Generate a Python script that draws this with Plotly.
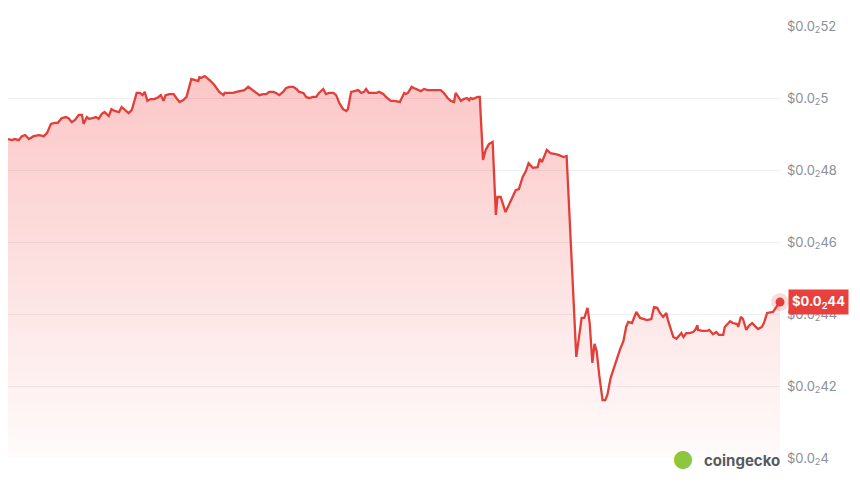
import plotly.graph_objects as go

# minutes since start of the 24h window
minutes = [0, 7, 13, 20, 26, 32, 39, 48, 58, 67, 73, 80, 87, 93, 100, 108, 113, 119, 125, 132,
           138, 141, 147, 151, 158, 164, 169, 175, 180, 188, 193, 199, 207, 212, 218, 225, 231, 240, 246, 251,
           255, 260, 266, 273, 281, 285, 290, 294, 301, 309, 314, 320, 327, 333, 342, 348, 355, 357, 361, 367,
           370, 376, 385, 394, 402, 404, 411, 420, 426, 435, 441, 448, 454, 463, 469, 476, 482, 487, 495, 500,
           506, 513, 519, 525, 532, 538, 543, 551, 556, 562, 569, 575, 580, 588, 593, 599, 607, 612, 618, 625,
           631, 634, 640, 646, 653, 659, 664, 668, 673, 681, 687, 692, 700, 705, 711, 714, 720, 727, 731, 739,
           742, 746, 753, 757, 765, 770, 776, 783, 793, 802, 807, 813, 820, 826, 832, 835, 839, 845, 850, 856,
           860, 863, 867, 871, 876, 880, 886, 891, 897, 904, 910, 913, 919, 928, 938, 947, 953, 960, 966, 971,
           979, 988, 992, 996, 1005, 1012, 1021, 1027, 1036, 1042, 1060, 1070, 1075, 1081, 1085, 1090, 1094, 1098, 1103, 1109,
           1114, 1118, 1124, 1129, 1137, 1142, 1148, 1153, 1157, 1164, 1172, 1179, 1187, 1192, 1200, 1205, 1211, 1216, 1222, 1228,
           1231, 1237, 1241, 1247, 1252, 1256, 1260, 1265, 1271, 1278, 1282, 1286, 1287, 1295, 1304, 1308, 1315, 1321, 1326, 1334,
           1337, 1347, 1352, 1360, 1362, 1367, 1371, 1377, 1382, 1388, 1393, 1399, 1406, 1410, 1416, 1423, 1427, 1433, 1440]

# price in units of 1e-6 USD
price_micro = [4886, 4883, 4886, 4883, 4894, 4897, 4886, 4894, 4897, 4894, 4903, 4928, 4931, 4931, 4944, 4947, 4944, 4933, 4939, 4953,
               4953, 4928, 4947, 4942, 4944, 4947, 4942, 4956, 4961, 4950, 4969, 4964, 4961, 4975, 4967, 4958, 4967, 5014, 5014, 5008,
               5017, 4992, 4997, 4997, 5003, 5008, 4992, 5008, 5011, 5011, 5000, 4989, 4994, 5003, 5053, 5050, 5047, 5058, 5056, 5061,
               5058, 5050, 5036, 5017, 5008, 5014, 5014, 5014, 5017, 5019, 5022, 5031, 5025, 5014, 5008, 5011, 5011, 5017, 5017, 5014,
               5008, 5017, 5028, 5031, 5031, 5025, 5017, 5014, 5003, 5000, 5003, 5003, 5014, 5025, 5011, 5014, 5014, 5008, 4986, 4969,
               4964, 4969, 5017, 5019, 5022, 5014, 5017, 5025, 5014, 5014, 5014, 5017, 5011, 5003, 4994, 4992, 4992, 4989, 4989, 5014,
               5011, 5014, 5031, 5028, 5022, 5019, 5025, 5022, 5022, 5022, 5022, 5014, 5000, 4992, 4989, 5014, 5006, 4992, 4997, 5000,
               4994, 5000, 4997, 5000, 5003, 5003, 4828, 4856, 4872, 4878, 4675, 4725, 4725, 4683, 4717, 4744, 4747, 4781, 4797, 4819,
               4806, 4808, 4831, 4822, 4856, 4847, 4844, 4842, 4836, 4839, 4281, 4389, 4389, 4417, 4375, 4264, 4317, 4297, 4228, 4161,
               4161, 4175, 4222, 4247, 4281, 4303, 4325, 4364, 4378, 4375, 4406, 4389, 4386, 4383, 4386, 4419, 4417, 4403, 4392, 4403,
               4383, 4350, 4336, 4331, 4339, 4347, 4336, 4347, 4347, 4350, 4356, 4369, 4356, 4353, 4353, 4356, 4344, 4350, 4342, 4342,
               4364, 4380, 4375, 4372, 4364, 4392, 4386, 4356, 4367, 4375, 4367, 4358, 4364, 4375, 4403, 4406, 4406, 4419, 4433]

prices = [p * 1e-6 for p in price_micro]

tick_values = [0.0040, 0.0042, 0.0044, 0.0046, 0.0048, 0.0050, 0.0052]
tick_labels = ["$0.0<sub>2</sub>4", "$0.0<sub>2</sub>42", "$0.0<sub>2</sub>44", "$0.0<sub>2</sub>46",
               "$0.0<sub>2</sub>48", "$0.0<sub>2</sub>5", "$0.0<sub>2</sub>52"]
last_label = "$0.0<sub>2</sub>44"

RED = "#e23f3a"

fig = go.Figure()
fig.add_trace(go.Scatter(
    x=minutes, y=prices, mode="lines",
    line=dict(color=RED, width=2.3),
    fill="tozeroy",
    fillgradient=dict(type="vertical", start=0.0040, stop=0.00506,
                      colorscale=[[0, "rgba(240,70,70,0.02)"], [1, "rgba(245,80,80,0.32)"]]),
    hoverinfo="skip", showlegend=False,
))
# end point halo + dot
fig.add_trace(go.Scatter(
    x=[minutes[-1]], y=[prices[-1]], mode="markers",
    marker=dict(size=18, color="rgba(234,60,60,0.18)"),
    hoverinfo="skip", showlegend=False, cliponaxis=False,
))
fig.add_trace(go.Scatter(
    x=[minutes[-1]], y=[prices[-1]], mode="markers",
    marker=dict(size=9, color=RED),
    hoverinfo="skip", showlegend=False, cliponaxis=False,
))

fig.add_annotation(
    x=1, xref="paper", y=prices[-1], yref="y",
    text="<b>" + last_label + "</b>", showarrow=False,
    xanchor="left", yanchor="middle", xshift=8,
    bgcolor="#e8403c", font=dict(color="white", size=13, family="Inter"),
    borderpad=3,
)

# coingecko watermark
fig.add_annotation(
    x=0.899, xref="paper", y=-0.005, yref="paper",
    text="<b>coingecko</b>", showarrow=False, xanchor="left", yanchor="middle",
    font=dict(color="#555b61", size=15, family="Inter"),
)
fig.add_annotation(
    x=0.874, xref="paper", y=-0.005, yref="paper",
    text="●", showarrow=False, xanchor="center", yanchor="middle",
    font=dict(color="#8dc63f", size=24),
)

fig.update_layout(
    width=852, height=481,
    margin=dict(l=0, r=80, t=18, b=31),
    paper_bgcolor="white", plot_bgcolor="white",
    font=dict(family="Inter", color="#8a8f98", size=13),
    xaxis=dict(range=[0, 1440], showgrid=False, showticklabels=False, zeroline=False,
               showline=False, fixedrange=True),
    yaxis=dict(range=[0.0040, 0.0052], side="right", tickvals=tick_values, ticktext=tick_labels,
               showgrid=True, gridcolor="#eeeff1", gridwidth=1, zeroline=False, showline=False,
               ticks="", ticklabelstandoff=6, tickfont=dict(size=13, color="#8a8f98")),
)

fig.write_html("out.html")
